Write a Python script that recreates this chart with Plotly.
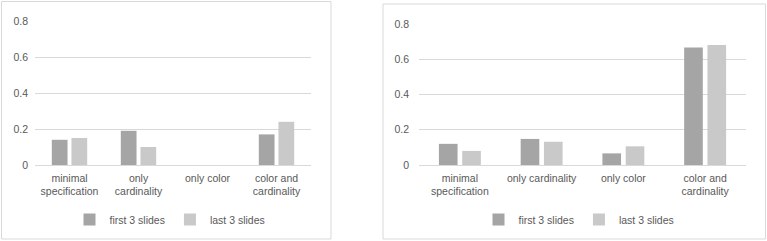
import plotly.graph_objects as go

W, H = 767, 241

series_names = ["first 3 slides", "last 3 slides"]
left_categories = ["minimal<br>specification", "only<br>cardinality", "only color", "color and<br>cardinality"]
left_first = [0.14, 0.19, 0.0, 0.17]
left_last = [0.15, 0.10, 0.0, 0.24]

right_categories = ["minimal<br>specification", "only cardinality", "only color", "color and<br>cardinality"]
right_first = [0.12, 0.148, 0.066, 0.666]
right_last = [0.08, 0.132, 0.106, 0.681]

y_ticks = [0, 0.2, 0.4, 0.6, 0.8]
y_ticktext = ["0", "0.2", "0.4", "0.6", "0.8"]

DARK = "#a5a5a5"
LIGHT = "#c9c9c9"
TEXT = "#595959"
GRID = "#d9d9d9"
FONT = "Liberation Sans, Arial, sans-serif"

fig = go.Figure()
fig.add_trace(go.Bar(x=left_categories, y=left_first, name=series_names[0], marker_color=DARK,
                     marker_line_width=0, xaxis="x", yaxis="y", legend="legend"))
fig.add_trace(go.Bar(x=left_categories, y=left_last, name=series_names[1], marker_color=LIGHT,
                     marker_line_width=0, xaxis="x", yaxis="y", legend="legend"))
fig.add_trace(go.Bar(x=right_categories, y=right_first, name=series_names[0], marker_color=DARK,
                     marker_line_width=0, xaxis="x2", yaxis="y2", legend="legend2"))
fig.add_trace(go.Bar(x=right_categories, y=right_last, name=series_names[1], marker_color=LIGHT,
                     marker_line_width=0, xaxis="x2", yaxis="y2", legend="legend2"))

def px(x):
    return x / W

def py(y):
    return (H - y) / H

yaxis_common = dict(range=[0, 0.8], tickvals=y_ticks, ticktext=y_ticktext, showgrid=True,
                    gridcolor=GRID, gridwidth=1, zeroline=False, showline=False, ticks="",
                    tickfont=dict(size=10.5, color=TEXT, family=FONT), fixedrange=True)
xaxis_common = dict(showgrid=False, zeroline=False, showline=True, linecolor=GRID, linewidth=1,
                    ticks="", tickfont=dict(size=10.5, color=TEXT, family=FONT), tickangle=0,
                    ticklabelstandoff=3, fixedrange=True)

legend_common = dict(orientation="h", xanchor="center", yanchor="middle",
                     font=dict(size=10.5, color=TEXT, family=FONT), itemwidth=30,
                     bgcolor="rgba(0,0,0,0)")

fig.update_layout(
    template="none",
    width=W, height=H,
    margin=dict(l=0, r=0, t=0, b=0),
    paper_bgcolor="white", plot_bgcolor="white",
    font=dict(family=FONT, size=10.5, color=TEXT),
    barmode="group", bargap=0.43, bargroupgap=0.2,
    xaxis=dict(domain=[px(35), px(311)], anchor="y", **xaxis_common),
    yaxis=dict(domain=[py(165), py(21)], anchor="x", ticklabelstandoff=6, **yaxis_common),
    xaxis2=dict(domain=[px(419), px(746)], anchor="y2", **xaxis_common),
    yaxis2=dict(domain=[py(165), py(24)], anchor="x2", ticklabelstandoff=9, **yaxis_common),
    legend=dict(x=px(170), y=py(219.5), **legend_common),
    legend2=dict(x=px(579), y=py(219.5), **legend_common),
    shapes=[
        dict(type="rect", xref="paper", yref="paper", x0=px(1.5), x1=px(331), y0=py(239), y1=py(1.5),
             line=dict(color=GRID, width=1), fillcolor="rgba(0,0,0,0)", layer="below"),
        dict(type="rect", xref="paper", yref="paper", x0=px(383), x1=px(765.5), y0=py(239), y1=py(4),
             line=dict(color=GRID, width=1), fillcolor="rgba(0,0,0,0)", layer="below"),
    ],
)

fig.write_html("out.html")
